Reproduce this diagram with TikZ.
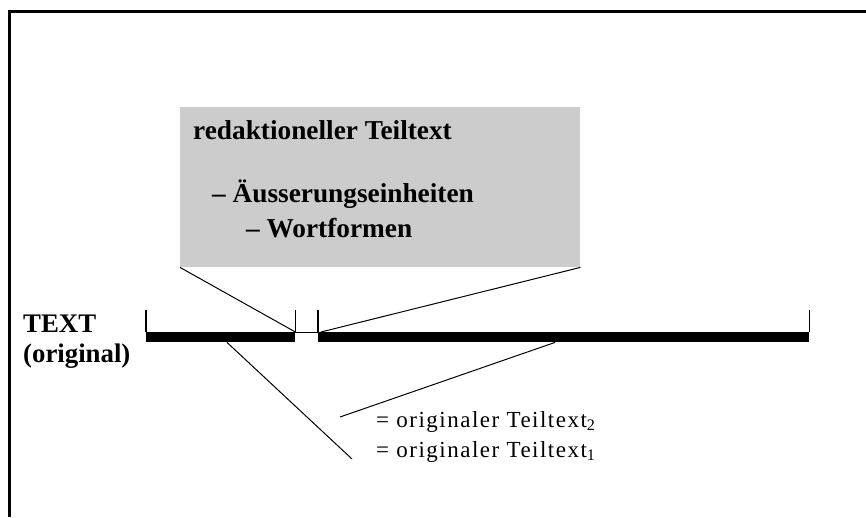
\documentclass[tikz,border=0pt]{standalone}
\usepackage{fontspec}
\setmainfont{Liberation Serif}
\tikzset{
  seg/.style={draw=none, fill=black, inner sep=0pt, minimum height=10pt, anchor=north west},
  tick/.style={line width=1.5pt},
  thin/.style={line width=1pt},
  frameline/.style={line width=3pt},
  bold/.style={font=\fontsize{27.3}{31}\selectfont\bfseries, inner sep=0pt, anchor=base west},
  plain/.style={font=\fontsize{23}{27}\selectfont\addfontfeature{LetterSpace=6.5}, inner sep=0pt, anchor=base west}
}
\begin{document}
\begin{tikzpicture}[x=1pt, y=-1pt]
  \useasboundingbox (0,0) rectangle (866,517);
  % outer frame (only top and left edges are inside the page)
  \draw[frameline] (9.5,517) -- (9.5,11.5) -- (866,11.5);

  % grey box with the edited part
  \node[fill=black!20, draw=none, inner sep=0pt, minimum width=400pt, minimum height=160pt, anchor=north west]
    (box) at (180,107) {};
  \node[bold] (r1) at (193,139) {redaktioneller Teiltext};
  \node[bold] (r2) at (212,202) {– Äusserungseinheiten};
  \node[bold] (r3) at (246,237) {– Wortformen};

  % text label on the left
  \node[bold, font=\fontsize{26.8}{30}\selectfont\bfseries] (t) at (23,332) {TEXT};
  \node[bold, font=\fontsize{26.8}{30}\selectfont\bfseries] (o) at (23,362) {(original)};

  % the two segments of the original text
  \node[seg, minimum width=149pt] (lseg) at (146,332) {};
  \node[seg, minimum width=491pt] (rseg) at (318,332) {};
  \draw[thin] (lseg.north east) -- (rseg.north west);
  \foreach \n/\a in {lseg/north west, lseg/north east, rseg/north west, rseg/north east}
    \draw[tick] (\n.\a) -- ++(0,-22);

  % zoom lines from the grey box to the gap
  \draw[thin] (box.south west) -- (lseg.north east);
  \draw[thin] (box.south east) -- ([xshift=3pt]rseg.north west);

  % labels for the original parts
  \node[plain] (o2) at (376,427) {= originaler Teiltext\textsubscript{2}};
  \node[plain] (o1) at (376,457) {= originaler Teiltext\textsubscript{1}};
  \coordinate (a2) at (340,417);
  \coordinate (a1) at (352,459);
  \draw[thin] ([xshift=81pt]lseg.south west) -- (a1);
  \draw[thin] ([xshift=237pt]rseg.south west) -- (a2);
\end{tikzpicture}
\end{document}
